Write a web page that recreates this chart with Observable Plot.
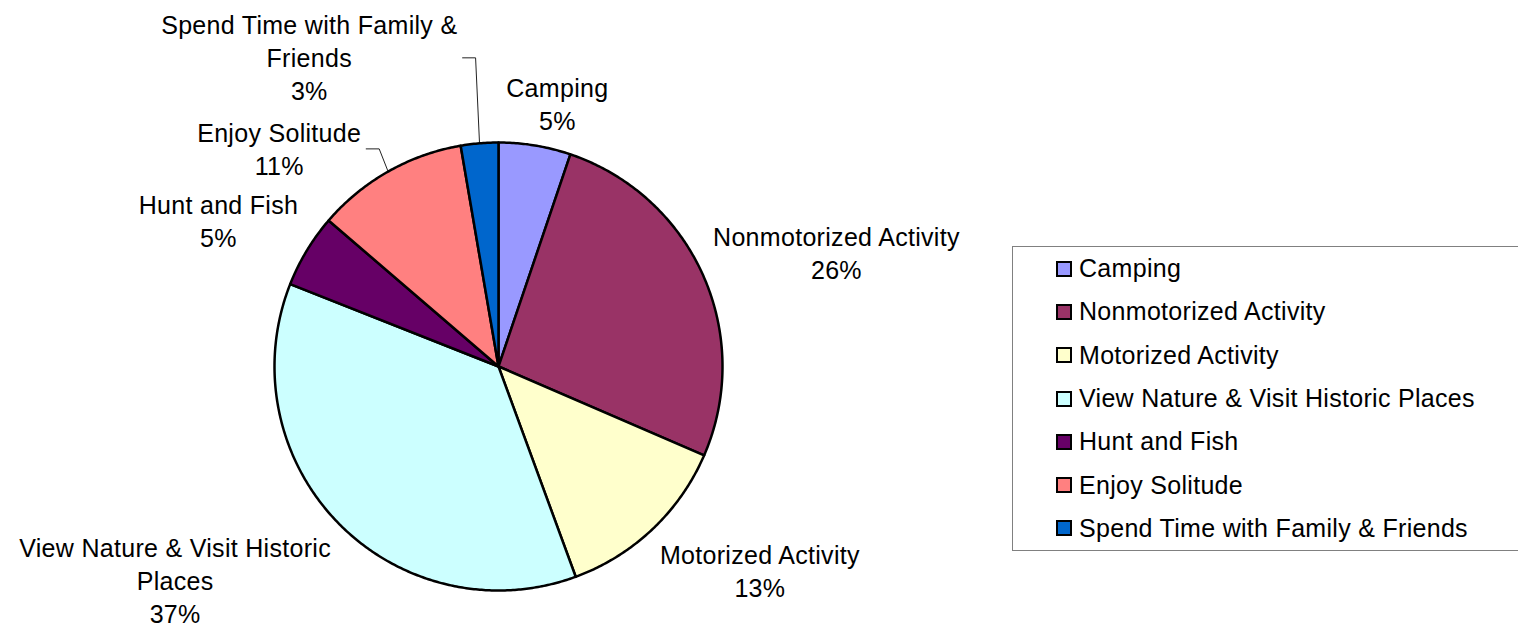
<!DOCTYPE html>
<html>
<head>
<meta charset="utf-8">
<script src="https://cdn.jsdelivr.net/npm/d3@7"></script>
<script src="https://cdn.jsdelivr.net/npm/@observablehq/plot@0.6"></script>
<style>
  html, body { margin: 0; padding: 0; background: #fff; overflow: hidden; }
  #wrap { position: relative; width: 1518px; height: 628px; overflow: hidden; font-family: "Liberation Sans", Arial, sans-serif; }
  #legend { position: absolute; left: 1012px; top: 246px; width: 506px; height: 305px; border: 1px solid #808080; border-right: none; box-sizing: border-box; }
  .item { height: 43.3px; display: flex; align-items: center; padding-left: 43px; font-size: 25px; letter-spacing: 0.3px; color: #000; white-space: nowrap; }
  .sw { width: 16px; height: 16px; border: 2px solid #000; box-sizing: border-box; margin-right: 7px; flex: none; }
</style>
</head>
<body>
<div id="wrap"><div id="chart"></div><div id="legend"></div></div>
<script>
// ---- data ----
const categories = ["Camping", "Nonmotorized Activity", "Motorized Activity", "View Nature & Visit Historic Places", "Hunt and Fish", "Enjoy Solitude", "Spend Time with Family & Friends"];
const values = [5.2, 26.3, 12.9, 36.6, 5.3, 11.0, 2.7];
const colors = ["#9999FF", "#993366", "#FFFFCC", "#CCFFFF", "#660066", "#FF8080", "#0066CC"];
const labelLines = [["Camping"], ["Nonmotorized Activity"], ["Motorized Activity"], ["View Nature & Visit Historic", "Places"], ["Hunt and Fish"], ["Enjoy Solitude"], ["Spend Time with Family &", "Friends"]];

// ---- layout ----
const W = 1518, H = 628, CX = 498, CY = 366, R = 224;
const FONT = 25, LH = 33;
// labels that were dragged away from their default spot (pixel nudges) and get leader lines
const dragged = {"Enjoy Solitude": [-22, 18], "Spend Time with Family & Friends": [-138, -27]};

const ctx = document.createElement("canvas").getContext("2d");
ctx.font = `${FONT}px "Liberation Sans", Arial, sans-serif`;
const measure = s => ctx.measureText(s).width + 0.3 * s.length;

const total = d3.sum(values);
const pie = d3.pie().sort(null).value(d => d)(values);
const clamp = v => Math.max(-1, Math.min(1, v));

const pieRows = [];
const labelRows = [];
const leaderRows = [];
pie.forEach((a, i) => {
  const name = categories[i];
  const steps = Math.max(2, Math.ceil((a.endAngle - a.startAngle) / (Math.PI / 360)));
  pieRows.push({name, x: 0, y: 0});
  for (let k = 0; k <= steps; k++) {
    const t = a.startAngle + (a.endAngle - a.startAngle) * k / steps;
    pieRows.push({name, x: Math.sin(t), y: Math.cos(t)});
  }
  const mid = (a.startAngle + a.endAngle) / 2;
  const s = Math.sin(mid), c = Math.cos(mid);
  const pct = Math.round(values[i] / total * 100) + "%";
  const lines = [...labelLines[i], pct];
  const w = d3.max(lines, measure);
  const h = lines.length * LH;
  let px = (R + 10) * s + w / 2 * clamp(2.5 * s);
  let py = -(R + 10) * c + h / 2 * clamp(-1.5 * c);
  if (dragged[name]) {
    px += dragged[name][0];
    py += dragged[name][1];
    const right = px + w / 2;
    const ly = py + 1;
    leaderRows.push({name, x: (right + 5) / R, y: -ly / R});
    leaderRows.push({name, x: (right + 18) / R, y: -ly / R});
    leaderRows.push({name, x: s, y: c});
  }
  labelRows.push({name, x: px / R, y: -py / R, text: lines.join("\n")});
});

const chart = Plot.plot({
  width: W,
  height: H,
  margin: 0,
  style: {fontFamily: '"Liberation Sans", Arial, sans-serif', letterSpacing: "0.3px", background: "white"},
  x: {domain: [-CX / R, (W - CX) / R], range: [0, W], axis: null},
  y: {domain: [-(H - CY) / R, CY / R], range: [H, 0], axis: null},
  color: {domain: categories, range: colors},
  marks: [
    Plot.line(leaderRows, {x: "x", y: "y", z: "name", stroke: "#222", strokeWidth: 1}),
    Plot.line(pieRows, {x: "x", y: "y", z: "name", fill: "name", stroke: "black", strokeWidth: 2.5, strokeLinejoin: "round", curve: "linear-closed"}),
    Plot.text(labelRows, {x: "x", y: "y", text: "text", fontSize: FONT, lineHeight: LH / FONT, fill: "black", textAnchor: "middle", lineAnchor: "middle"})
  ]
});
document.getElementById("chart").appendChild(chart);

// ---- legend ----
const legend = d3.select("#legend");
categories.forEach((name, i) => {
  const row = legend.append("div").attr("class", "item");
  row.append("div").attr("class", "sw").style("background", colors[i]);
  row.append("span").text(name);
});
</script>
</body>
</html>
